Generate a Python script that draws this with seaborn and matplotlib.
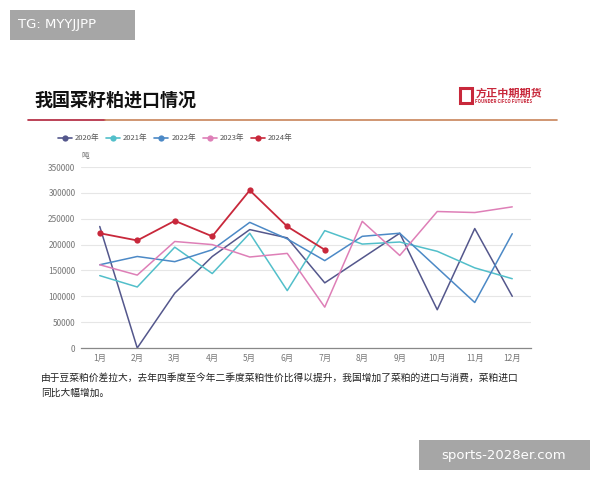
import matplotlib.pyplot as plt
import matplotlib.patches as mpatches
from matplotlib.lines import Line2D
import pandas as pd
import seaborn as sns
import numpy as np

# data (tonnes)
months = ["1月", "2月", "3月", "4月", "5月", "6月", "7月", "8月", "9月", "10月", "11月", "12月"]
y2020 = [235000, 0, 106000, 177000, 229000, 213000, 126000, 174000, 222000, 74000, 231000, 100000]
y2021 = [140000, 118000, 195000, 144000, 222000, 111000, 227000, 201000, 205000, 187000, 155000, 134000]
y2022 = [161000, 177000, 167000, 190000, 243000, 211000, 169000, 216000, 222000, 155000, 88000, 221000]
y2023 = [161000, 141000, 206000, 200000, 176000, 183000, 79000, 245000, 179000, 264000, 262000, 273000]
y2024 = [222000, 208000, 246000, 216000, 305000, 235000, 190000]

series = {"2020年": y2020, "2021年": y2021, "2022年": y2022, "2023年": y2023, "2024年": y2024}
colors = {"2020年": "#54578c", "2021年": "#52bfca", "2022年": "#4c89c6",
          "2023年": "#de7fb7", "2024年": "#c8283b"}

sns.set_style("white")
plt.rcParams['font.family'] = ['Noto Sans CJK SC', 'DejaVu Sans']

fig = plt.figure(figsize=(6, 4.8), dpi=100)
ax = fig.add_axes([0.135, 0.275, 0.75, 0.377])

for name, vals in series.items():
    df = pd.DataFrame({"m": np.arange(len(vals)), "v": vals})
    if name == "2024年":
        sns.lineplot(data=df, x="m", y="v", ax=ax, color=colors[name], lw=1.3,
                     marker="o", markersize=4.5, markeredgewidth=0, zorder=5)
    else:
        sns.lineplot(data=df, x="m", y="v", ax=ax, color=colors[name], lw=1.1)

ax.set_xlim(-0.5, 11.5)
ax.set_ylim(0, 350000)
ax.set_yticks(np.arange(0, 350001, 50000))
ax.set_yticklabels([str(v) for v in range(0, 350001, 50000)], fontsize=6, color="#777777")
ax.set_xticks(np.arange(12))
ax.set_xticklabels(months, fontsize=6, color="#777777")
ax.set_xticks(np.arange(-0.5, 12, 1), minor=True)
ax.tick_params(axis="x", which="major", length=0, pad=4)
ax.tick_params(axis="x", which="minor", length=3, color="#888888", width=0.8)
ax.tick_params(axis="y", length=0, pad=4)
ax.set_xlabel("")
ax.set_ylabel("")
ax.grid(axis="y", color="#e6e6e6", lw=0.8)
for s in ["top", "right", "left"]:
    ax.spines[s].set_visible(False)
ax.spines["bottom"].set_color("#888888")
ax.spines["bottom"].set_linewidth(0.9)

# legend
handles = [Line2D([0], [0], color=colors[n], lw=1.2, marker="o", markersize=4.5,
                  markeredgewidth=0) for n in series]
fig.legend(handles, list(series.keys()), loc="center left", bbox_to_anchor=(0.085, 0.712),
           ncol=5, frameon=False, fontsize=5.5, handlelength=1.8, columnspacing=0.9,
           handletextpad=0.4, labelcolor="#555555")
fig.text(0.135, 0.671, "吨", fontsize=5.5, color="#666666")

# header
fig.text(0.058, 0.78, "我国菜籽粕进口情况", fontsize=13, fontweight="bold", color="#111111")
fig.add_artist(Line2D([0.047, 0.175], [0.75, 0.75], color="#b0213a", lw=1.2))
fig.add_artist(Line2D([0.175, 0.928], [0.75, 0.75], color="#c8845a", lw=1.2))
fig.add_artist(mpatches.Rectangle((0.766, 0.786), 0.02, 0.03, facecolor="none",
                                  edgecolor="#c8283b", lw=2.2))
fig.text(0.792, 0.798, "方正中期期货", fontsize=8, fontweight="bold", color="#c8283b")
fig.text(0.792, 0.786, "FOUNDER CIFCO FUTURES", fontsize=3.2, fontweight="bold", color="#c8283b")

# commentary
fig.text(0.068, 0.206, "由于豆菜粕价差拉大，去年四季度至今年二季度菜粕性价比得以提升，我国增加了菜粕的进口与消费，菜粕进口",
         fontsize=7, color="#222222")
fig.text(0.068, 0.175, "同比大幅增加。", fontsize=7, color="#222222")

# watermarks
fig.add_artist(mpatches.Rectangle((0.017, 0.917), 0.208, 0.063, facecolor="#a6a6a6",
                                  edgecolor="none"))
fig.text(0.03, 0.948, "TG: MYYJJPP", fontsize=9.5, color="white", va="center",
         family="DejaVu Sans")
fig.add_artist(mpatches.Rectangle((0.698, 0.021), 0.285, 0.063, facecolor="#a6a6a6",
                                  edgecolor="none"))
fig.text(0.84, 0.052, "sports-2028er.com", fontsize=9.5, color="white", va="center",
         ha="center", family="DejaVu Sans")

fig.savefig("out.png", dpi=100)
